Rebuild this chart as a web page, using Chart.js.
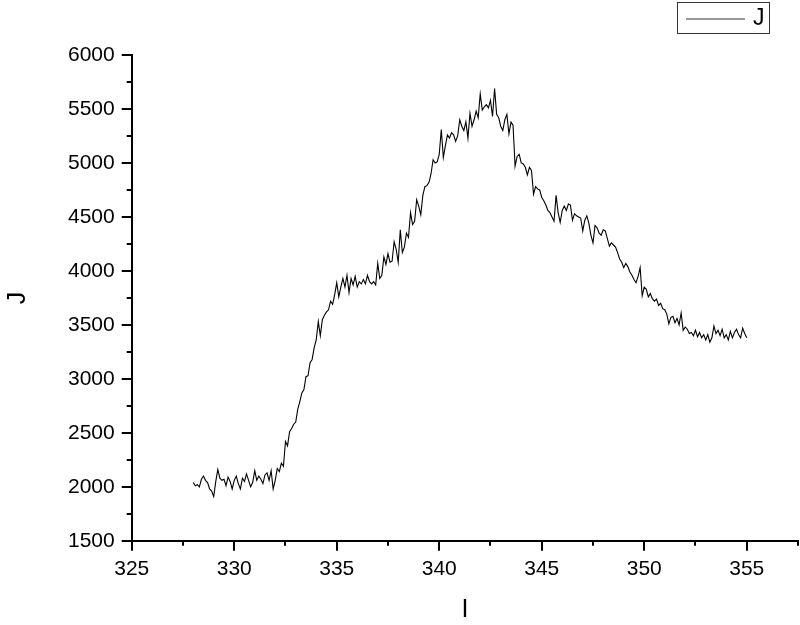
<!DOCTYPE html>
<html>
<head>
<meta charset="utf-8">
<script src="https://cdn.jsdelivr.net/npm/chart.js@4.4.1/dist/chart.umd.min.js"></script>
<style>
html,body{margin:0;padding:0;background:#fff;}
#wrap{width:800px;height:625px;position:relative;}
</style>
</head>
<body>
<div id="wrap"><canvas id="c" width="800" height="625"></canvas></div>
<script>
// ---- data ----
const seriesLabel = 'J';
const xAxisTitle = 'I';
const yAxisTitle = 'J';
const xStart = 328.0;   // first sample position
const xStep = 0.1;      // sample spacing
const jValues = [
  2040, 2010, 2020, 2000, 2070, 2100, 2060, 2040, 1980, 1960,
  1910, 2050, 2160, 2080, 2060, 2070, 2010, 2090, 2050, 1980,
  2060, 2100, 2030, 1980, 2080, 2050, 2120, 2060, 2000, 2040,
  2150, 2060, 2100, 2070, 2030, 2110, 2130, 2060, 2150, 1980,
  2060, 2170, 2140, 2220, 2190, 2420, 2380, 2510, 2540, 2580,
  2600, 2720, 2790, 2870, 2900, 3020, 3030, 3150, 3180, 3290,
  3360, 3530, 3400, 3550, 3590, 3620, 3640, 3720, 3690, 3780,
  3890, 3760, 3850, 3930, 3850, 3960, 3800, 3930, 3870, 3950,
  3850, 3900, 3880, 3920, 3880, 3960, 3900, 3880, 3900, 3870,
  4070, 3930, 3960, 4130, 4060, 4160, 4080, 4090, 4270, 4200,
  4080, 4380, 4170, 4220, 4350, 4310, 4540, 4430, 4460, 4660,
  4600, 4520, 4700, 4780, 4790, 4820, 4900, 5030, 5000, 5010,
  5080, 5310, 5050, 5160, 5260, 5230, 5280, 5260, 5200, 5250,
  5400, 5340, 5300, 5380, 5230, 5460, 5340, 5400, 5480, 5420,
  5640, 5490, 5520, 5540, 5510, 5580, 5430, 5690, 5450, 5420,
  5340, 5300, 5400, 5450, 5270, 5380, 5350, 4970, 5060, 5080,
  5000, 4990, 4960, 4890, 4960, 4930, 4710, 4780, 4760, 4750,
  4680, 4650, 4610, 4560, 4540, 4500, 4460, 4700, 4540, 4450,
  4560, 4600, 4560, 4620, 4610, 4470, 4530, 4510, 4500, 4490,
  4370, 4470, 4510, 4440, 4330, 4260, 4420, 4400, 4350, 4330,
  4380, 4370, 4300, 4230, 4260, 4240, 4220, 4170, 4110, 4080,
  4030, 4070, 4040, 3990, 3960, 3920, 3890, 3950, 4030, 3770,
  3850, 3830, 3760, 3790, 3740, 3720, 3740, 3680, 3700, 3650,
  3640, 3600, 3510, 3570, 3580, 3520, 3560, 3500, 3610, 3450,
  3480, 3460, 3420, 3430, 3400, 3450, 3390, 3430, 3380, 3410,
  3360, 3410, 3340, 3380, 3490, 3420, 3450, 3400, 3460, 3380,
  3410, 3360, 3440, 3380, 3430, 3460, 3410, 3380, 3470, 3420,
  3380
];
const xTickValues = [325, 330, 335, 340, 345, 350, 355];
const yTickValues = [1500, 2000, 2500, 3000, 3500, 4000, 4500, 5000, 5500, 6000];
const xRange = [325, 357.5];
const yRange = [1500, 6000];
const xMinorStep = 2.5;
const yMinorStep = 250;

const points = jValues.map((v, i) => ({ x: +(xStart + i * xStep).toFixed(2), y: v }));

const FONT = "'Liberation Sans', Arial, sans-serif";

const tickPlugin = {
  id: 'originTicks',
  afterDraw(chart) {
    const ctx = chart.ctx;
    const xs = chart.scales.x, ys = chart.scales.y;
    ctx.save();
    ctx.strokeStyle = '#000';
    ctx.lineWidth = 2;
    ctx.beginPath();
    for (let v = xRange[0]; v <= xRange[1] + 1e-9; v += xMinorStep) {
      const px = Math.round(xs.getPixelForValue(v));
      const len = xTickValues.includes(v) ? 10 : 5;
      ctx.moveTo(px, xs.top);
      ctx.lineTo(px, xs.top + len);
    }
    for (let v = yRange[0]; v <= yRange[1] + 1e-9; v += yMinorStep) {
      const py = Math.round(ys.getPixelForValue(v));
      const len = yTickValues.includes(v) ? 10 : 5;
      ctx.moveTo(ys.right, py);
      ctx.lineTo(ys.right - len, py);
    }
    ctx.stroke();
    // legend box
    const bx = 677, by = 2, bw = 92, bh = 31;
    ctx.lineWidth = 1;
    ctx.strokeStyle = '#333';
    ctx.strokeRect(bx + 0.5, by + 0.5, bw, bh);
    ctx.strokeStyle = '#777';
    ctx.lineWidth = 1.5;
    ctx.beginPath();
    ctx.moveTo(686, 19);
    ctx.lineTo(745, 19);
    ctx.stroke();
    ctx.fillStyle = '#000';
    ctx.font = '23px ' + FONT;
    ctx.textBaseline = 'middle';
    ctx.textAlign = 'left';
    ctx.fillText(chart.data.datasets[0].label, 753, 19);
    ctx.restore();
  }
};

new Chart(document.getElementById('c'), {
  type: 'line',
  data: {
    datasets: [{
      label: seriesLabel,
      data: points,
      borderColor: '#000',
      borderWidth: 1.1,
      pointRadius: 0,
      tension: 0,
      fill: false
    }]
  },
  options: {
    responsive: false,
    animation: false,
    devicePixelRatio: 1,
    layout: { padding: { top: 55, right: 2, bottom: 0, left: 0 } },
    plugins: { legend: { display: false }, tooltip: { enabled: false } },
    scales: {
      x: {
        type: 'linear',
        min: xRange[0], max: xRange[1],
        afterBuildTicks(scale) { scale.ticks = xTickValues.map(v => ({ value: v })); },
        ticks: { color: '#000', font: { family: FONT, size: 21 }, padding: 6, maxRotation: 0, autoSkip: false,
                 callback: v => String(v) },
        grid: { display: true, drawOnChartArea: false, drawTicks: true, tickLength: 10, color: 'rgba(0,0,0,0)' },
        border: { display: true, color: '#000', width: 2 },
        title: { display: true, text: xAxisTitle, color: '#000', font: { family: FONT, size: 25 }, padding: { top: 7, bottom: 0 } }
      },
      y: {
        type: 'linear',
        min: yRange[0], max: yRange[1],
        afterBuildTicks(scale) { scale.ticks = yTickValues.map(v => ({ value: v })); },
        ticks: { color: '#000', font: { family: FONT, size: 21 }, padding: 7, autoSkip: false,
                 callback: v => String(v) },
        grid: { display: true, drawOnChartArea: false, drawTicks: true, tickLength: 10, color: 'rgba(0,0,0,0)' },
        border: { display: true, color: '#000', width: 2 },
        title: { display: true, text: yAxisTitle, color: '#000', font: { family: FONT, size: 25 }, padding: { top: 3, bottom: 28 } }
      }
    }
  },
  plugins: [tickPlugin]
});
</script>
</body>
</html>
